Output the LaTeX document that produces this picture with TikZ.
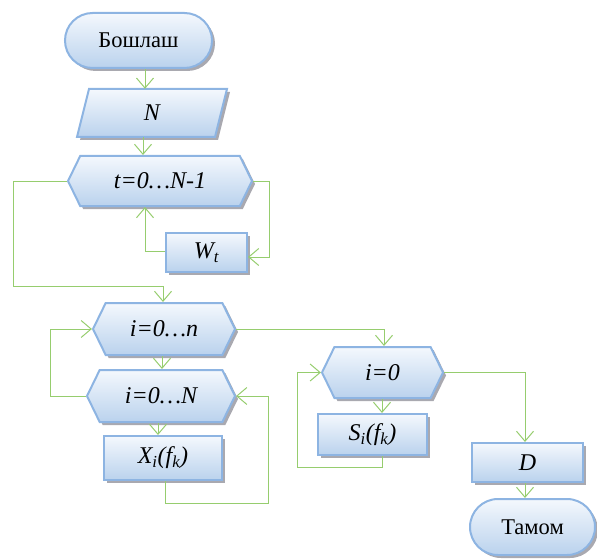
\documentclass[tikz,border=0pt]{standalone}
\usepackage{fontspec}
\setmainfont{Liberation Serif}
\usetikzlibrary{shapes.symbols,shapes.misc,shadows,arrows.meta,calc}
\definecolor{bord}{RGB}{141,180,226}
\definecolor{ftop}{RGB}{244,248,253}
\definecolor{fbot}{RGB}{186,210,237}
\definecolor{lnkc}{RGB}{150,205,110}
\definecolor{shd}{RGB}{140,140,150}
\tikzset{
 txt/.style={font=\fontsize{22.5}{26}\selectfont, inner sep=0pt},
 itx/.style={font=\fontsize{24}{28}\selectfont\itshape, inner sep=0pt},
 blk/.style={draw=bord, line width=2pt, top color=ftop, bottom color=fbot,
   drop shadow={shadow xshift=3pt,shadow yshift=-3pt,fill=shd,opacity=0.75}},
 proc/.style={blk, itx, rectangle},
 term/.style={blk, txt, rounded rectangle},
 loopbox/.style={blk, itx, signal, signal to=west and east, signal pointer angle=128},
 arr/.style={draw=lnkc, line width=1pt, -{Straight Barb[length=10pt,width=17pt]}},
}
\begin{document}
\begin{tikzpicture}[x=1pt,y=-1pt]
\useasboundingbox (0,0) rectangle (597,559);
\node[term, minimum width=147pt, minimum height=55pt] (start) at (138.5,40.5) {Бошлаш};
\path[blk] (89,89) -- (227,89) -- (215,137) -- (77,137) -- cycle;
\node[itx, minimum width=138pt, minimum height=48pt] (N) at (152,113) {N};
\node[loopbox, minimum width=184pt, minimum height=50pt] (hT) at (160,181) {t=0…N-1};
\node[proc, minimum width=81pt, minimum height=39pt] (W) at (206.5,252.5) {W\textsubscript{t}};
\node[loopbox, minimum width=142pt, minimum height=52pt] (hn) at (164,329) {i=0…n};
\node[loopbox, minimum width=148pt, minimum height=52pt] (hNN) at (161,396) {i=0…N};
\node[proc, minimum width=118pt, minimum height=44pt] (X) at (163,458) {X\textsubscript{i}(f\textsubscript{k})};
\node[loopbox, minimum width=121pt, minimum height=51pt] (h0) at (382.5,372.5) {i=0};
\node[proc, minimum width=109pt, minimum height=41pt] (S) at (372.5,434.5) {S\textsubscript{i}(f\textsubscript{k})};
\node[proc, minimum width=111pt, minimum height=39pt] (D) at (527.5,462.5) {D};
\node[term, minimum width=125pt, minimum height=56pt] (end) at (532.5,527) {Тамом};
\draw[arr] ([xshift=6.5pt]start.south) -- ([xshift=-7pt]N.north);
\draw[arr] ([xshift=-9pt]N.south) -- ([xshift=-17pt]hT.north);
\draw[arr] (hT.east) -- ++(16,0) |- ([yshift=-4.5pt]W.east);
\draw[arr] ([yshift=1.5pt]W.west) -| ([xshift=-15pt]hT.south);
\draw[arr] (hT.west) -- ++(-53,0) -- ++(0,105) -| ([xshift=-1pt]hn.north);
\draw[arr] ([xshift=-2pt]hn.south) -- ([xshift=1pt]hNN.north);
\draw[arr] (hNN.west) -- ++(-35,0) |- (hn.west);
\draw[arr] ([xshift=-3pt]hNN.south) -- ([xshift=-5pt]X.north);
\draw[arr] ([xshift=2pt]X.south) -- ++(0,22) -- ++(103,0) |- (hNN.east);
\draw[arr] (hn.east) -| ([xshift=1.5pt]h0.north);
\draw[arr] ([xshift=-0.5pt]h0.south) -- ([xshift=9.5pt]S.north);
\draw[arr] ([xshift=9.5pt]S.south) -- ++(0,11) -- ++(-85,0) |- (h0.west);
\draw[arr] (h0.east) -| ([xshift=-2.5pt]D.north);
\draw[arr] ([xshift=-2.5pt]D.south) -- ([xshift=-7.5pt]end.north);
\end{tikzpicture}
\end{document}
